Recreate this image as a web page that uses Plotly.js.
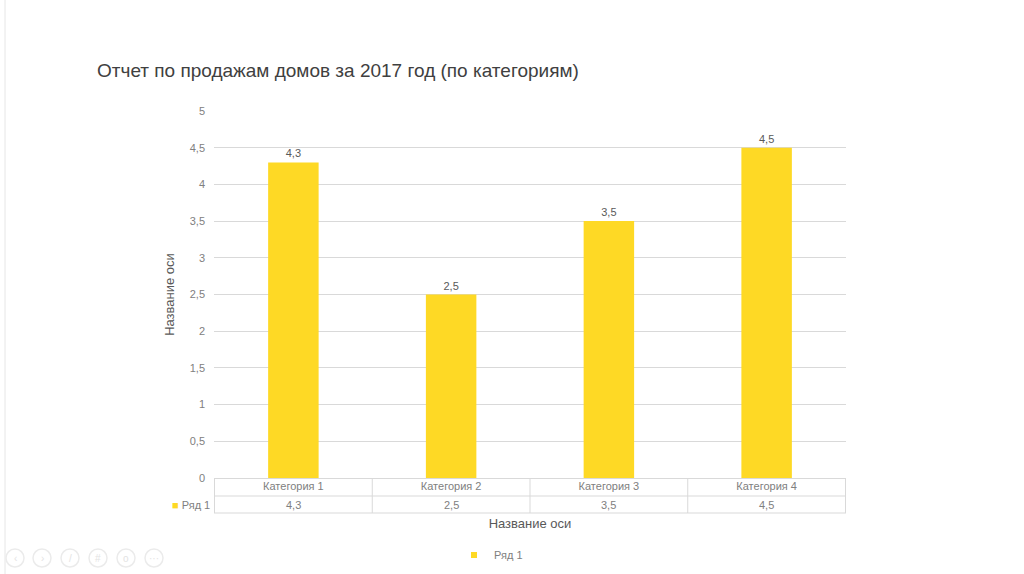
<!DOCTYPE html>
<html>
<head>
<meta charset="utf-8">
<script src="https://cdn.plot.ly/plotly-3.0.1.min.js"></script>
<style>html,body{margin:0;padding:0;background:#fff;}#chart{width:1024px;height:574px;}</style>
</head>
<body>
<div id="chart"></div>
<script>
const categories = ["Категория 1", "Категория 2", "Категория 3", "Категория 4"];
const values = [4.3, 2.5, 3.5, 4.5];
const seriesName = "Ряд 1";
const yTicks = [0, 0.5, 1, 1.5, 2, 2.5, 3, 3.5, 4, 4.5, 5];
const chartTitle = "Отчет по продажам домов за 2017 год (по категориям)";
const axisTitle = "Название оси";

const fmt = v => String(v).replace('.', ',');
const W = 1024, H = 574;
const L = 214, R = 846, T = 111, B = 478;
const pw = R - L, ph = B - T;
const px = x => (x - L) / pw;       // pixel x -> paper
const py = y => (B - y) / ph;       // pixel y -> paper

const barColor = '#FED925';
const gridColor = '#D9D9D9';
const tableColor = '#D9D9D9';

const shapes = [];
const annotations = [];
// table horizontal lines
[496, 513].forEach(yy => shapes.push({type:'line', xref:'paper', yref:'paper', x0:0, x1:1, y0:py(yy), y1:py(yy), line:{color:tableColor, width:1}}));
// table vertical lines
for (let i = 0; i <= categories.length; i++) {
  shapes.push({type:'line', xref:'x', yref:'paper', x0:i-0.5, x1:i-0.5, y0:0, y1:py(513), line:{color:tableColor, width:1}});
}
// value row
values.forEach((v, i) => annotations.push({xref:'x', yref:'paper', x:categories[i], y:py(505), yanchor:'middle', xanchor:'center', text:fmt(v), showarrow:false, font:{family:'Liberation Sans, Arial', size:11, color:'#808080'}}));
// legend key in table
annotations.push({xref:'paper', yref:'paper', x:px(212), y:py(505), xanchor:'right', yanchor:'middle', text:'<span style="color:'+barColor+'">■</span> ' + seriesName, showarrow:false, font:{family:'Liberation Sans, Arial', size:11, color:'#808080'}});
// slide left border
shapes.push({type:'line', xref:'paper', yref:'paper', x0:px(5), x1:px(5), y0:py(0), y1:py(574), line:{color:'#E6E6E6', width:1}});
// faint navigation icons
const navX = [15, 42, 70, 98, 126, 154];
const navG = ['‹', '›', '/', '#', 'o', '···'];
navX.forEach((cx, i) => {
  shapes.push({type:'circle', xref:'paper', yref:'paper', x0:px(cx-9), x1:px(cx+9), y0:py(558-9), y1:py(558+9), line:{color:'#EBEBEB', width:1.5}});
  annotations.push({xref:'paper', yref:'paper', x:px(cx), y:py(558), xanchor:'center', yanchor:'middle', text:navG[i], showarrow:false, font:{size:10, color:'#E3E3E3'}});
});

const data = [{
  type:'bar', x:categories, y:values, name:seriesName, showlegend:false,
  marker:{color:barColor},
  text: values.map(fmt), textposition:'outside', cliponaxis:false,
  textfont:{family:'Liberation Sans, Arial', size:11, color:'#595959'},
  hoverinfo:'none'
}, {
  type:'scatter', mode:'markers', x:[null], y:[null], name:seriesName, showlegend:true,
  marker:{color:barColor, symbol:'square', size:6}, hoverinfo:'none'
}];

const layout = {
  width:W, height:H,
  margin:{l:L, r:W-R, t:T, b:H-B, pad:0},
  paper_bgcolor:'#fff', plot_bgcolor:'#fff',
  separators:', ',
  bargap:0.68,
  font:{family:'Liberation Sans, Arial', color:'#808080', size:11},
  title:{text:chartTitle, xref:'container', x:97/W, xanchor:'left', yref:'container', y:1-70/H, yanchor:'middle',
         font:{family:'Liberation Sans, Arial', size:19, color:'#404040'}},
  xaxis:{type:'category', showgrid:false, zeroline:false, showline:false, ticks:'',
         tickfont:{size:11, color:'#808080'}, automargin:false,
         title:{text:axisTitle, standoff:27, font:{size:13, color:'#595959'}}},
  yaxis:{range:[0,5], tickvals:yTicks, ticktext:yTicks.map(fmt), showgrid:true, gridcolor:gridColor, gridwidth:1,
         zeroline:true, zerolinecolor:gridColor, showline:false, ticks:'', ticklabelstandoff:8,
         tickfont:{size:11, color:'#808080'}, automargin:false,
         title:{text:axisTitle, standoff:12, font:{size:13, color:'#595959'}}},
  showlegend:true,
  legend:{orientation:'h', xref:'container', x:491/W, xanchor:'center', yref:'container', y:1-555/H, yanchor:'middle', font:{size:11, color:'#808080'}, itemwidth:30},
  shapes:shapes, annotations:annotations
};

Plotly.newPlot('chart', data, layout, {staticPlot:true});
</script>
</body>
</html>
